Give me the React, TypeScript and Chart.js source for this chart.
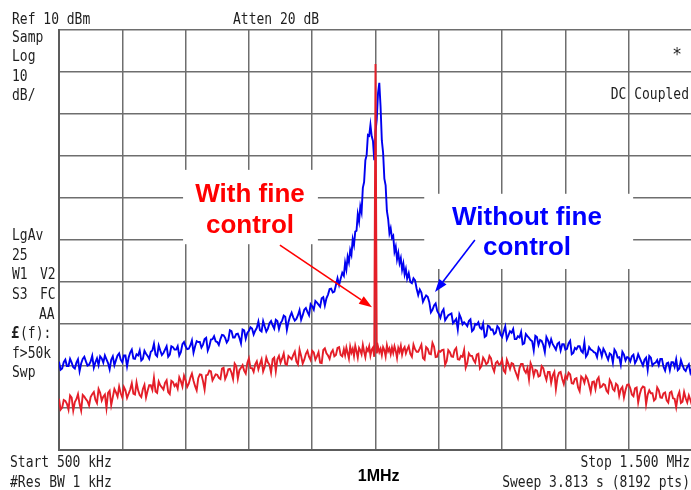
import React, { useEffect, useRef } from 'react';
import { Chart, registerables } from 'chart.js';

Chart.register(...registerables);

// Sweep bins (kHz): two interleaved 5 kHz grids outside, 2 kHz grid around the carrier
const range = (a: number, b: number, s: number) => {
  const out: number[] = [];
  for (let v = a; v <= b + 1e-9; v += s) out.push(Math.round(v * 100) / 100);
  return out;
};
const LEFT_FREQ_A = range(500, 945, 5);
const LEFT_FREQ_B = range(502.5, 947.5, 5);
const PEAK_FREQ = range(950, 1050, 2);
const RIGHT_FREQ_A = range(1055, 1500, 5);
const RIGHT_FREQ_B = range(1052.5, 1497.5, 5);

// Without fine control (blue), dBm
const BLUE_LEFT_A = [
  -69.0, -70.6, -68.5, -70.0, -69.2, -70.6, -68.4, -69.4, -67.8, -69.9,
  -68.9, -70.4, -68.2, -67.7, -69.2, -68.4, -70.8, -67.7, -68.6, -67.0,
  -69.1, -67.5, -68.0, -66.1, -68.3, -67.5, -68.7, -66.4, -67.6, -66.6,
  -64.7, -67.7, -66.3, -66.9, -65.3, -67.3, -65.5, -66.1, -67.5, -64.8,
  -65.3, -65.9, -63.9, -65.3, -64.3, -65.6, -63.6, -66.3, -63.7, -62.9,
  -64.3, -63.6, -62.7, -64.4, -61.5, -63.2, -62.4, -63.3, -61.3, -63.5,
  -61.6, -61.1, -61.6, -59.4, -61.8, -60.6, -61.1, -59.3, -61.1, -59.3,
  -59.8, -58.0, -61.4, -58.2, -58.4, -58.8, -56.7, -57.9, -56.2, -57.9,
  -55.8, -54.5, -55.4, -53.9, -55.6, -53.0, -51.6, -52.3, -49.1, -49.2,
];
const BLUE_LEFT_B = [
  -70.9, -69.1, -70.0, -68.3, -70.3, -69.2, -71.2, -68.3, -68.9, -69.7,
  -67.6, -69.1, -69.8, -68.2, -67.5, -69.3, -68.5, -69.8, -67.5, -68.5,
  -67.5, -70.1, -66.8, -68.2, -67.2, -66.3, -68.3, -67.1, -68.3, -66.3,
  -67.3, -65.1, -67.4, -66.1, -67.8, -65.3, -66.1, -65.3, -66.7, -64.3,
  -66.0, -65.1, -66.8, -64.1, -64.3, -64.9, -63.3, -65.3, -63.6, -64.1,
  -65.0, -62.6, -63.3, -63.8, -61.7, -63.2, -62.3, -64.6, -61.5, -62.1,
  -60.8, -62.5, -60.9, -61.5, -59.3, -61.8, -59.8, -60.3, -59.0, -61.2,
  -59.2, -58.3, -59.5, -57.3, -59.2, -57.9, -59.0, -56.6, -57.1, -55.3,
  -56.6, -54.9, -55.9, -53.6, -53.9, -51.7, -52.5, -50.7, -50.7, -47.8,
];
const BLUE_PEAK = [
  -48.5, -45.4, -47.0, -44.0, -45.3, -42.4, -43.5, -39.8, -41.2, -38.0,
  -37.8, -33.9, -35.6, -32.0, -33.4, -27.6, -26.2, -21.0, -19.8, -15.0,
  -15.2, -12.6, -15.3, -16.4, -21.0, -14.2, -11.3, -5.0, -2.6, -8.2,
  -16.3, -19.2, -25.4, -27.0, -33.1, -35.0, -38.4, -37.2, -39.5, -39.0,
  -42.8, -41.6, -44.6, -43.1, -45.5, -44.3, -47.1, -45.6, -48.2, -46.9,
  -49.2,
];
const BLUE_RIGHT_A = [
  -50.0, -49.1, -51.6, -51.8, -54.7, -53.2, -54.8, -56.6, -55.1, -57.6,
  -57.1, -59.1, -57.9, -57.5, -59.3, -61.3, -58.6, -59.6, -60.5, -58.9,
  -61.3, -60.2, -60.9, -59.9, -62.8, -60.6, -61.3, -62.1, -61.0, -63.1,
  -60.6, -62.7, -62.1, -63.6, -62.9, -61.9, -64.6, -62.9, -63.8, -66.3,
  -63.1, -63.8, -65.0, -63.1, -65.1, -64.8, -66.1, -64.4, -64.8, -66.1,
  -64.6, -67.2, -65.7, -65.3, -66.4, -64.3, -67.2, -66.1, -66.7, -67.9,
  -66.2, -65.9, -67.6, -67.0, -69.2, -66.7, -67.9, -66.6, -68.7, -68.1,
  -67.7, -69.3, -67.2, -69.0, -68.5, -70.9, -68.0, -69.4, -68.6, -68.3,
  -70.2, -69.4, -71.0, -69.1, -68.4, -70.6, -69.8, -71.2, -69.6, -70.6,
];
const BLUE_RIGHT_B = [
  -47.9, -50.3, -49.6, -53.1, -52.5, -53.9, -53.5, -57.2, -55.6, -56.9,
  -58.5, -56.5, -58.5, -57.7, -59.8, -58.8, -57.7, -60.1, -60.0, -59.3,
  -61.7, -60.0, -59.6, -61.2, -63.1, -60.4, -61.4, -62.4, -60.5, -62.5,
  -61.8, -63.6, -61.7, -61.2, -63.6, -63.2, -64.8, -62.4, -63.3, -64.1,
  -62.8, -65.0, -64.0, -66.7, -63.9, -63.6, -65.4, -64.7, -66.3, -64.8,
  -65.9, -64.0, -66.9, -66.0, -65.3, -66.8, -67.8, -65.5, -66.3, -66.9,
  -65.6, -67.7, -66.6, -68.5, -67.3, -66.1, -68.0, -69.7, -67.3, -67.9,
  -68.9, -67.3, -68.6, -68.1, -69.9, -68.0, -67.6, -69.9, -69.2, -69.8,
  -68.3, -71.1, -69.2, -69.1, -70.2, -71.0, -68.6, -70.8, -70.2, -71.6,
];

// With fine control (red), dBm
const RED_LEFT_A = [
  -77.8, -79.9, -78.3, -80.4, -77.5, -78.6, -76.7, -80.6, -77.3, -78.4,
  -77.4, -76.2, -78.8, -76.4, -77.3, -80.0, -75.9, -77.4, -76.3, -74.9,
  -77.5, -75.8, -76.6, -74.1, -76.8, -75.8, -77.4, -74.5, -75.9, -74.6,
  -72.8, -76.4, -74.6, -75.6, -73.4, -76.7, -73.8, -74.3, -72.7, -74.9,
  -73.4, -74.2, -71.8, -74.8, -72.9, -72.1, -75.6, -72.1, -71.3, -72.7,
  -72.1, -73.1, -70.4, -72.2, -70.7, -73.1, -70.0, -71.0, -69.8, -71.8,
  -68.2, -70.5, -69.6, -70.8, -68.4, -70.2, -69.1, -71.6, -68.0, -68.4,
  -69.2, -67.0, -69.7, -68.0, -67.4, -68.9, -66.1, -69.4, -67.1, -67.8,
  -66.4, -68.5, -66.7, -69.3, -65.8, -67.5, -66.8, -67.7, -65.7, -67.4,
];
const RED_LEFT_B = [
  -80.4, -78.1, -79.0, -77.0, -80.6, -77.9, -79.0, -76.9, -77.9, -79.4,
  -76.7, -78.0, -75.5, -78.2, -76.8, -76.4, -79.3, -75.5, -77.3, -76.5,
  -75.0, -77.6, -75.6, -76.6, -73.9, -76.9, -75.5, -77.5, -74.6, -75.7,
  -76.1, -73.7, -75.1, -74.0, -76.2, -73.5, -74.8, -75.4, -73.6, -72.3,
  -75.0, -72.8, -73.5, -75.8, -72.0, -73.6, -72.2, -71.1, -73.4, -72.0,
  -72.8, -70.6, -73.1, -70.8, -71.6, -69.4, -73.0, -70.4, -71.1, -69.3,
  -70.5, -71.4, -68.9, -69.5, -71.3, -68.0, -69.7, -68.4, -71.2, -67.6,
  -68.2, -69.5, -67.6, -68.4, -66.6, -69.6, -67.6, -68.5, -66.4, -68.6,
  -66.8, -67.7, -69.2, -66.2, -67.0, -68.3, -66.2, -67.4, -65.5, -67.7,
];
const RED_PEAK = [
  -66.0, -67.4, -65.6, -66.9, -68.2, -65.4, -66.8, -65.9, -67.6, -65.2,
  -66.5, -68.0, -65.7, -66.3, -67.2, -65.0, -66.6, -67.9, -65.8, -66.4,
  -65.3, -67.5, -66.1, -65.6, -67.8, 1.9, -67.0, -65.4, -66.7, -65.9,
  -67.4, -65.5, -66.2, -67.7, -65.1, -66.5, -65.8, -67.2, -65.6, -66.9,
  -65.3, -66.4, -68.1, -65.7, -66.6, -65.2, -67.3, -66.0, -65.5, -67.0,
  -66.1,
];
const RED_RIGHT_A = [
  -67.1, -64.9, -66.6, -65.8, -68.1, -65.5, -67.1, -64.5, -67.9, -66.4,
  -66.2, -69.7, -66.2, -67.7, -66.2, -68.4, -67.6, -66.2, -69.3, -67.6,
  -68.6, -67.3, -70.6, -68.0, -69.6, -67.6, -70.3, -69.3, -69.7, -68.5,
  -71.6, -69.5, -69.3, -70.9, -72.9, -69.5, -71.0, -70.5, -69.3, -72.3,
  -71.1, -72.3, -70.5, -73.3, -71.4, -72.2, -75.5, -71.6, -73.1, -72.3,
  -71.6, -74.1, -73.1, -75.1, -72.5, -74.0, -73.1, -76.2, -73.7, -73.3,
  -75.1, -74.3, -75.9, -73.3, -75.5, -74.2, -77.1, -75.0, -75.7, -74.4,
  -76.8, -75.3, -78.7, -75.4, -75.1, -76.8, -76.5, -78.2, -75.1, -77.5,
  -76.5, -78.2, -76.4, -77.7, -79.8, -76.2, -78.5, -77.7, -77.0, -79.4,
];
const RED_RIGHT_B = [
  -65.3, -67.8, -66.0, -66.6, -64.9, -68.5, -65.9, -67.2, -65.4, -67.8,
  -66.6, -66.1, -68.8, -66.7, -67.8, -65.7, -68.5, -67.8, -70.4, -67.0,
  -67.6, -69.2, -67.1, -70.0, -68.6, -69.2, -68.2, -71.3, -68.9, -69.5,
  -71.1, -68.5, -70.7, -69.5, -71.9, -70.5, -69.5, -71.6, -73.2, -70.3,
  -70.9, -72.5, -70.0, -72.1, -71.4, -74.0, -71.4, -72.7, -71.4, -74.3,
  -73.0, -72.0, -74.2, -72.9, -76.0, -72.9, -72.4, -74.6, -73.8, -75.5,
  -72.7, -74.9, -74.5, -76.4, -74.0, -75.9, -74.6, -75.5, -77.5, -74.5,
  -75.3, -77.2, -75.1, -76.7, -74.9, -79.1, -75.8, -76.5, -77.8, -75.8,
  -77.6, -76.3, -78.7, -76.1, -77.8, -77.2, -78.8, -76.2, -78.7, -78.1,
];

const X_MIN_KHZ = 500;
const X_MAX_KHZ = 1500;
const X_STEP_KHZ = 100;
const Y_MIN_DBM = -90;
const Y_MAX_DBM = 10;
const Y_STEP_DB = 10;

const toPoints = (groups: [number[], number[]][]) => {
  const pts: { x: number; y: number }[] = [];
  groups.forEach(([fs, vs]) => fs.forEach((f, i) => pts.push({ x: f, y: vs[i] })));
  return pts.sort((a, b) => a.x - b.x);
};

const BLUE_POINTS = toPoints([
  [LEFT_FREQ_A, BLUE_LEFT_A], [LEFT_FREQ_B, BLUE_LEFT_B], [PEAK_FREQ, BLUE_PEAK],
  [RIGHT_FREQ_A, BLUE_RIGHT_A], [RIGHT_FREQ_B, BLUE_RIGHT_B],
]);
const RED_POINTS = toPoints([
  [LEFT_FREQ_A, RED_LEFT_A], [LEFT_FREQ_B, RED_LEFT_B], [PEAK_FREQ, RED_PEAK],
  [RIGHT_FREQ_A, RED_RIGHT_A], [RIGHT_FREQ_B, RED_RIGHT_B],
]);

const MONO = '13px "DejaVu Sans Mono", "Liberation Mono", monospace';
const TXT = '#1e1e1e';
const GRID = '#6e6e6e';

const overlayPlugin = {
  id: 'overlay',
  beforeDatasetsDraw(chart: any) {
    const { ctx, scales } = chart;
    const x = scales.x, y = scales.y;
    ctx.save();
    ctx.fillStyle = '#ffffff';
    const box = (f1: number, f2: number, d1: number, d2: number) => {
      const px1 = x.getPixelForValue(f1), px2 = x.getPixelForValue(f2);
      const py1 = y.getPixelForValue(d1), py2 = y.getPixelForValue(d2);
      ctx.fillRect(px1, py1, px2 - px1, py2 - py1);
    };
    box(696, 909, -23.3, -41.0);
    box(1077, 1407, -29.0, -46.9);
    ctx.restore();
  },
  afterDraw(chart: any) {
    const { ctx, scales } = chart;
    const x = scales.x, y = scales.y;
    ctx.save();
    ctx.fillStyle = TXT;
    ctx.textBaseline = 'alphabetic';
    ctx.textAlign = 'left';
    const m = (s: string, px: number, py: number, font = MONO) => {
      ctx.save();
      ctx.font = font;
      ctx.translate(px, py);
      ctx.scale(1, 1.15);
      ctx.fillText(s, 0, 0);
      ctx.restore();
    };
    m('Ref 10 dBm', 12, 24);
    m('Atten 20 dB', 233, 24);
    m('Samp', 12, 42);
    m('Log', 12, 61);
    m('10', 12, 80.5);
    m('dB/', 12, 100);
    m('LgAv', 12, 240);
    m('25', 12, 259.5);
    m('W1', 12, 279);
    m('V2', 40, 279);
    m('S3', 12, 299);
    m('FC', 40, 299);
    m('AA', 39, 319);
    m('£', 11, 338, 'bold 14px "DejaVu Sans Mono", monospace');
    m('(f):', 20, 338);
    m('f>50k', 12, 357.5);
    m('Swp', 12, 377);
    m('Start 500 kHz', 10, 467);
    m('#Res BW 1 kHz', 10, 487);
    ctx.textAlign = 'right';
    m('Stop 1.500 MHz', 690, 467);
    m('Sweep 3.813 s (8192 pts)', 690, 487);
    m('DC Coupled', 689, 99);
    ctx.textAlign = 'center';
    m('*', 677, 60, '16px "DejaVu Sans Mono", monospace');
    ctx.fillStyle = '#000';
    ctx.font = 'bold 16px "Liberation Sans", Arial, sans-serif';
    ctx.fillText('1MHz', x.getPixelForValue(1005), 481);

    ctx.font = 'bold 26px "Liberation Sans", Arial, sans-serif';
    ctx.fillStyle = '#ff0000';
    const cx1 = x.getPixelForValue(801.7);
    const by1 = y.getPixelForValue(-31.0);
    ctx.fillText('With fine', cx1, by1);
    ctx.fillText('control', cx1, by1 + 31);
    ctx.fillStyle = '#0000ff';
    const cx2 = x.getPixelForValue(1239.3);
    const by2 = y.getPixelForValue(-36.4);
    ctx.fillText('Without fine', cx2, by2);
    ctx.fillText('control', cx2, by2 + 30);

    const arrow = (f1: number, d1: number, f2: number, d2: number, color: string) => {
      const x1 = x.getPixelForValue(f1), y1 = y.getPixelForValue(d1);
      const x2 = x.getPixelForValue(f2), y2 = y.getPixelForValue(d2);
      const ang = Math.atan2(y2 - y1, x2 - x1);
      const L = 13, W = 4.5;
      const bx = x2 - L * Math.cos(ang), by = y2 - L * Math.sin(ang);
      ctx.strokeStyle = color;
      ctx.fillStyle = color;
      ctx.lineWidth = 1.6;
      ctx.beginPath();
      ctx.moveTo(x1, y1);
      ctx.lineTo(bx, by);
      ctx.stroke();
      ctx.beginPath();
      ctx.moveTo(x2, y2);
      ctx.lineTo(bx + W * Math.sin(ang), by - W * Math.cos(ang));
      ctx.lineTo(bx - W * Math.sin(ang), by + W * Math.cos(ang));
      ctx.closePath();
      ctx.fill();
    };
    arrow(849, -41.2, 994.5, -56.0, '#ff0000');
    arrow(1157, -40.0, 1094, -52.4, '#0000ff');
    ctx.restore();
  },
};

export default function App() {
  const ref = useRef<HTMLCanvasElement | null>(null);
  useEffect(() => {
    document.body.style.margin = '0';
    document.body.style.overflow = 'hidden';
    document.documentElement.style.overflow = 'hidden';
    const canvas = ref.current!;
    const chart = new Chart(canvas, {
      type: 'line',
      data: {
        datasets: [
          {
            label: 'With fine control',
            data: RED_POINTS,
            borderColor: '#e41e28',
            borderWidth: 1.9,
            pointRadius: 0,
            tension: 0,
          },
          {
            label: 'Without fine control',
            data: BLUE_POINTS,
            borderColor: '#0000f0',
            borderWidth: 1.9,
            pointRadius: 0,
            tension: 0,
          },
        ],
      },
      options: {
        animation: false,
        responsive: false,
        devicePixelRatio: 1,
        events: [],
        layout: { padding: { left: 59, top: 30, right: 8, bottom: 40 } },
        plugins: { legend: { display: false }, tooltip: { enabled: false } },
        scales: {
          x: {
            type: 'linear',
            min: X_MIN_KHZ,
            max: X_MAX_KHZ,
            ticks: { display: false, stepSize: X_STEP_KHZ },
            grid: { color: GRID, lineWidth: 1.5, drawTicks: false },
            border: { color: '#5c5c5c', width: 2 },
          },
          y: {
            type: 'linear',
            min: Y_MIN_DBM,
            max: Y_MAX_DBM,
            ticks: { display: false, stepSize: Y_STEP_DB },
            grid: { color: GRID, lineWidth: 1.5, drawTicks: false },
            border: { color: '#5c5c5c', width: 2 },
          },
        },
      },
      plugins: [overlayPlugin],
    } as any);
    return () => chart.destroy();
  }, []);
  return (
    <div style={{ width: 691, height: 490, overflow: 'hidden', background: '#fff' }}>
      <canvas ref={ref} width={700} height={490} style={{ display: 'block', width: 700, height: 490 }} />
    </div>
  );
}
